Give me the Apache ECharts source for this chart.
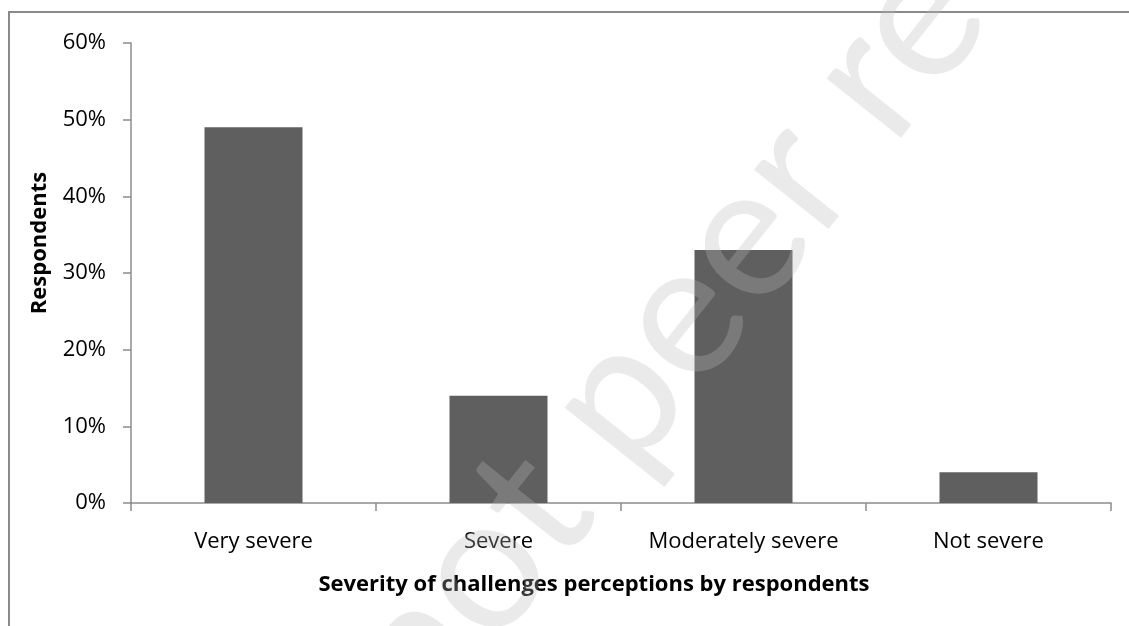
<!DOCTYPE html>
<html>
<head>
<meta charset="utf-8">
<script src="https://cdn.jsdelivr.net/npm/echarts@6/dist/echarts.min.js"></script>
<style>html,body{margin:0;padding:0;background:#fff;}#c{width:1129px;height:626px;}</style>
</head>
<body>
<div id="c"></div>
<script>
const categories = ['Very severe', 'Severe', 'Moderately severe', 'Not severe'];
const values = [49, 14, 33, 4];
const yTicks = [0, 10, 20, 30, 40, 50, 60];
const yTitle = 'Respondents';
const xTitle = 'Severity of challenges perceptions by respondents';
const watermark = 'not peer reviewed';

const chart = echarts.init(document.getElementById('c'));
const FONT = '"Open Sans", sans-serif';
chart.setOption({
  animation: false,
  backgroundColor: '#fff',
  grid: { left: 131, right: 18, top: 43, bottom: 123, containLabel: false },
  xAxis: {
    type: 'category',
    data: categories,
    axisLine: { lineStyle: { color: '#8c8c8c', width: 1.5 } },
    axisTick: { show: true, interval: 0, length: 8, lineStyle: { color: '#8c8c8c', width: 1.5 } },
    axisLabel: { interval: 0, color: '#000', fontFamily: FONT, fontSize: 22, margin: 28 }
  },
  yAxis: {
    type: 'value',
    min: yTicks[0],
    max: yTicks[yTicks.length - 1],
    interval: 10,
    splitLine: { show: false },
    axisLine: { show: true, lineStyle: { color: '#8c8c8c', width: 1.5 } },
    axisTick: { show: true, length: 8, lineStyle: { color: '#8c8c8c', width: 1.5 } },
    axisLabel: { color: '#000', fontFamily: FONT, fontSize: 22, margin: 25, padding: [7, 0, 0, 0], formatter: v => v + '%' }
  },
  series: [{
    type: 'bar',
    data: values,
    barWidth: '40%',
    itemStyle: { color: '#5f5f5f' },
    z: 2
  }],
  graphic: [
    { type: 'rect', shape: { x: 9, y: 12, width: 1200, height: 700 }, style: { fill: 'none', stroke: '#8a8a8a', lineWidth: 2 }, silent: true, z: -1 },
    { type: 'text', x: 40, y: 243, rotation: Math.PI / 2, style: { text: yTitle, font: 'bold 22px "Open Sans", sans-serif', fill: '#000', align: 'center', verticalAlign: 'middle' } },
    { type: 'text', x: 594, y: 585, style: { text: xTitle, font: 'bold 22px "Open Sans", sans-serif', fill: '#000', align: 'center', verticalAlign: 'middle' } },
    { type: 'text', x: 381, y: 694, rotation: 51.5 * Math.PI / 180, z: 100, style: { text: watermark, font: '188px Lato, sans-serif', fill: 'rgba(187,187,187,0.3)', align: 'left', verticalAlign: 'middle' } }
  ]
});
</script>
</body>
</html>
